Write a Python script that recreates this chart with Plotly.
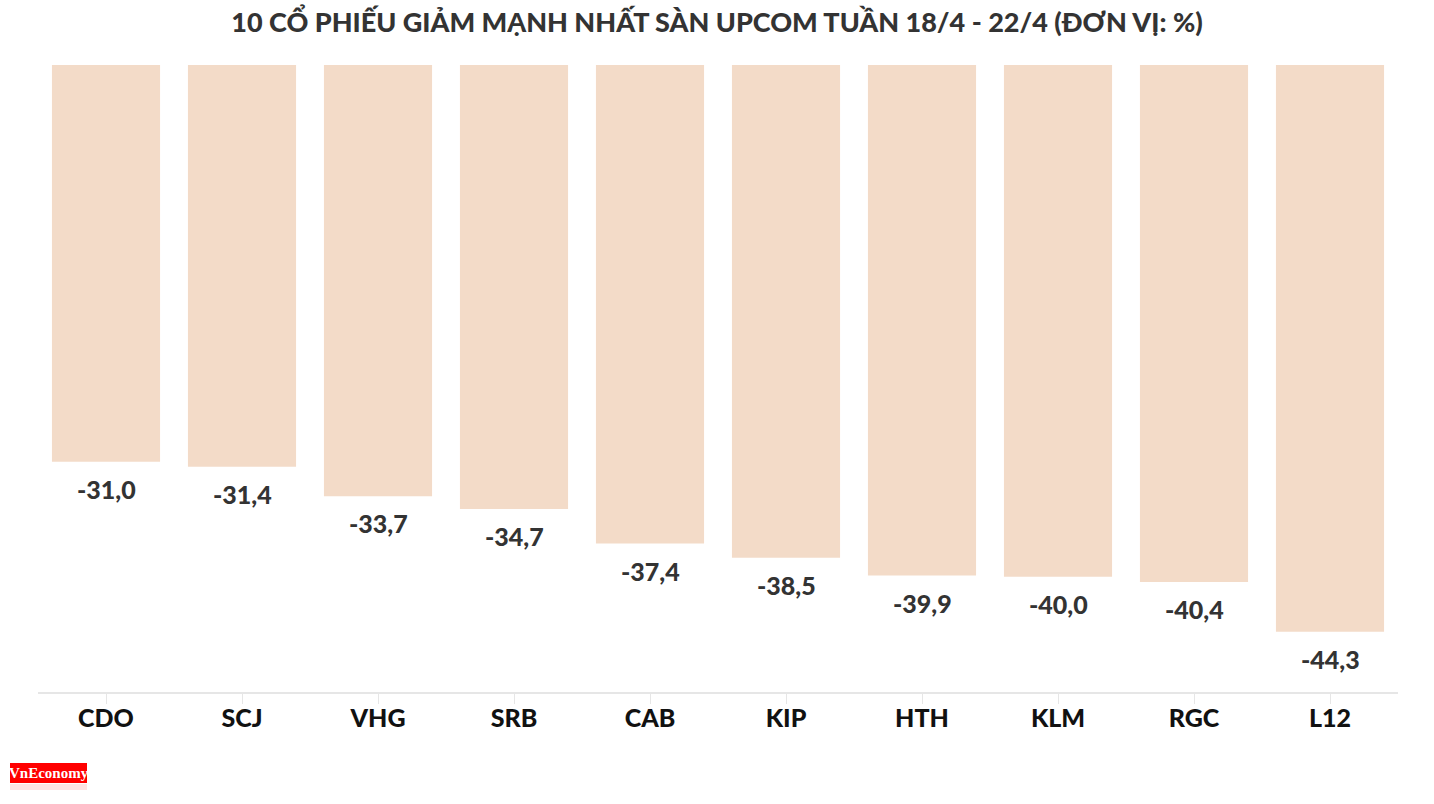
import plotly.graph_objects as go

categories = ["CDO", "SCJ", "VHG", "SRB", "CAB", "KIP", "HTH", "KLM", "RGC", "L12"]
values = [-31.0, -31.4, -33.7, -34.7, -37.4, -38.5, -39.9, -40.0, -40.4, -44.3]

FONT = "Lato"
W, H = 1434, 804
# target page pixel positions of the plot area
PL, PR, PT, PB = 38, 1398, 65, 692
ml, mr, mt, mb = PL, W - PR, PT, H - PB


def px_x(p):
    return (p - PL) / (PR - PL)


def px_y(p):
    return (PB - p) / (PB - PT)


fig = go.Figure(go.Bar(
    x=categories, y=values,
    marker=dict(color="#F3DBC8", line=dict(width=0)),
    width=0.795,
    hoverinfo="skip",
))

for c, v in zip(categories, values):
    fig.add_annotation(x=c, y=v, text=f"{v:.1f}".replace(".", ","),
                       showarrow=False, yanchor="top", yshift=-10,
                       font=dict(family=FONT, size=25, color="#333333", weight=900))

fig.update_layout(
    width=W, height=H,
    margin=dict(l=ml, r=mr, t=mt, b=mb),
    paper_bgcolor="white", plot_bgcolor="white",
    separators=",.",
    showlegend=False,
    title=dict(
        text="10 CỔ PHIẾU GIẢM MẠNH NHẤT SÀN UPCOM TUẦN 18/4 - 22/4 (ĐƠN VỊ: %)",
        x=717 / W, xanchor="center", y=1 - 23 / H, yanchor="middle",
        font=dict(family=FONT, size=27, color="#333333", weight=900),
    ),
    xaxis=dict(
        showline=True, linecolor="#E6E6E6", linewidth=2,
        ticks="outside", ticklen=10, tickcolor="#E6E6E6", tickwidth=1,
        ticklabelstandoff=-7,
        tickfont=dict(family=FONT, size=25, color="#111111", weight=900),
        showgrid=False, fixedrange=True,
    ),
    yaxis=dict(
        range=[-49, 0], visible=False, showgrid=False, zeroline=False, fixedrange=True,
    ),
)

# VnEconomy logo block
fig.add_shape(type="rect", xref="paper", yref="paper",
              x0=px_x(10), x1=px_x(87), y0=px_y(783), y1=px_y(763),
              fillcolor="#FF0000", line=dict(width=0), layer="above")
fig.add_annotation(xref="paper", yref="paper", x=px_x(48.5), y=px_y(773),
                   text="<b>VnEconomy</b>", showarrow=False,
                   font=dict(family="Liberation Serif", size=15, color="white"),
                   xanchor="center", yanchor="middle")
fig.add_shape(type="rect", xref="paper", yref="paper",
              x0=px_x(10), x1=px_x(87), y0=px_y(790), y1=px_y(784),
              fillcolor="#FFE3E3", line=dict(width=0), layer="above")

fig.write_html("out.html", config={"displayModeBar": False},
               post_script="document.body.style.margin='0';document.body.style.overflow='hidden';")
